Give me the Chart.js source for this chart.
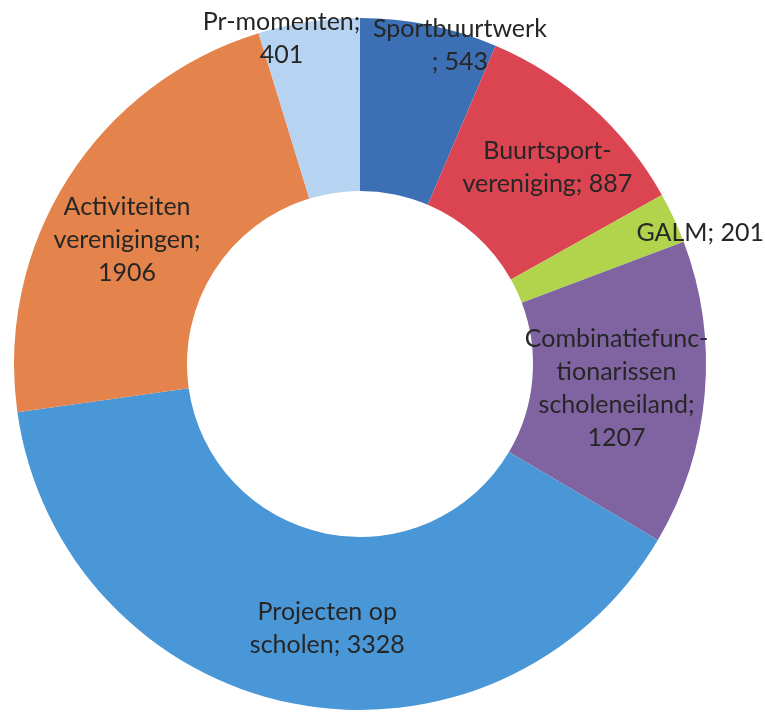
<!DOCTYPE html>
<html>
<head>
<meta charset="utf-8">
<script src="https://cdn.jsdelivr.net/npm/chart.js@4"></script>
<style>
    html, body { margin: 0; padding: 0; background: #ffffff; }
    canvas { display: block; }
</style>
</head>
<body>
<canvas id="donutChart" width="765" height="712"></canvas>
<script>
// data, clockwise from 12 o'clock
const categories = [
    'Sportbuurtwerk',
    'Buurtsport-vereniging',
    'GALM',
    'Combinatiefunctionarissen scholeneiland',
    'Projecten op scholen',
    'Activiteiten verenigingen',
    'Pr-momenten'
];
const values = [543, 887, 201, 1207, 3328, 1906, 401];

// how the data labels are broken into lines ({v} = value)
const labelLines = [
    ['Sportbuurtwerk', '; {v}'],
    ['Buurtsport-', 'vereniging; {v}'],
    ['GALM; {v}'],
    ['Combinatiefunc-', 'tionarissen', 'scholeneiland;', '{v}'],
    ['Projecten op', 'scholen; {v}'],
    ['Activiteiten', 'verenigingen;', '{v}'],
    ['Pr-momenten;', '{v}']
];

const colors = ['#3D6FB5', '#DA4551', '#B1D44C', '#8064A2', '#4A97D7', '#E4834B', '#B6D4F2'];

// nudges of the label block away from the segment centre
const labelNudge = [
    [48, -64], [14, -3], [105, -22], [-2, 2], [18, 10], [-14, 15], [-40, -69]
];

const FONT = '25px Lato';
const LINE_H = 33;

const labelPlugin = {
    id: 'donutLabels',
    afterDatasetsDraw(chart) {
        const c = chart.ctx;
        const arcs = chart.getDatasetMeta(0).data;
        c.save();
        c.font = FONT;
        c.fillStyle = '#262626';
        c.textAlign = 'center';
        c.textBaseline = 'middle';
        arcs.forEach((arc, i) => {
            const p = arc.tooltipPosition();
            const lines = labelLines[i].map(l => l.replace('{v}', values[i]));
            const x = p.x + labelNudge[i][0];
            const y0 = p.y + labelNudge[i][1] - (lines.length - 1) * LINE_H / 2;
            lines.forEach((t, k) => c.fillText(t, x, y0 + k * LINE_H));
        });
        c.restore();
    }
};

new Chart(document.getElementById('donutChart'), {
    type: 'doughnut',
    data: {
        labels: categories,
        datasets: [{
            data: values,
            backgroundColor: colors,
            borderWidth: 0,
            hoverOffset: 0
        }]
    },
    options: {
        responsive: false,
        animation: false,
        events: [],
        cutout: '50%',
        layout: {
            padding: { left: 14, right: 59, top: 18, bottom: 2 }
        },
        plugins: {
            legend: { display: false },
            tooltip: { enabled: false }
        }
    },
    plugins: [labelPlugin]
});
</script>
</body>
</html>
